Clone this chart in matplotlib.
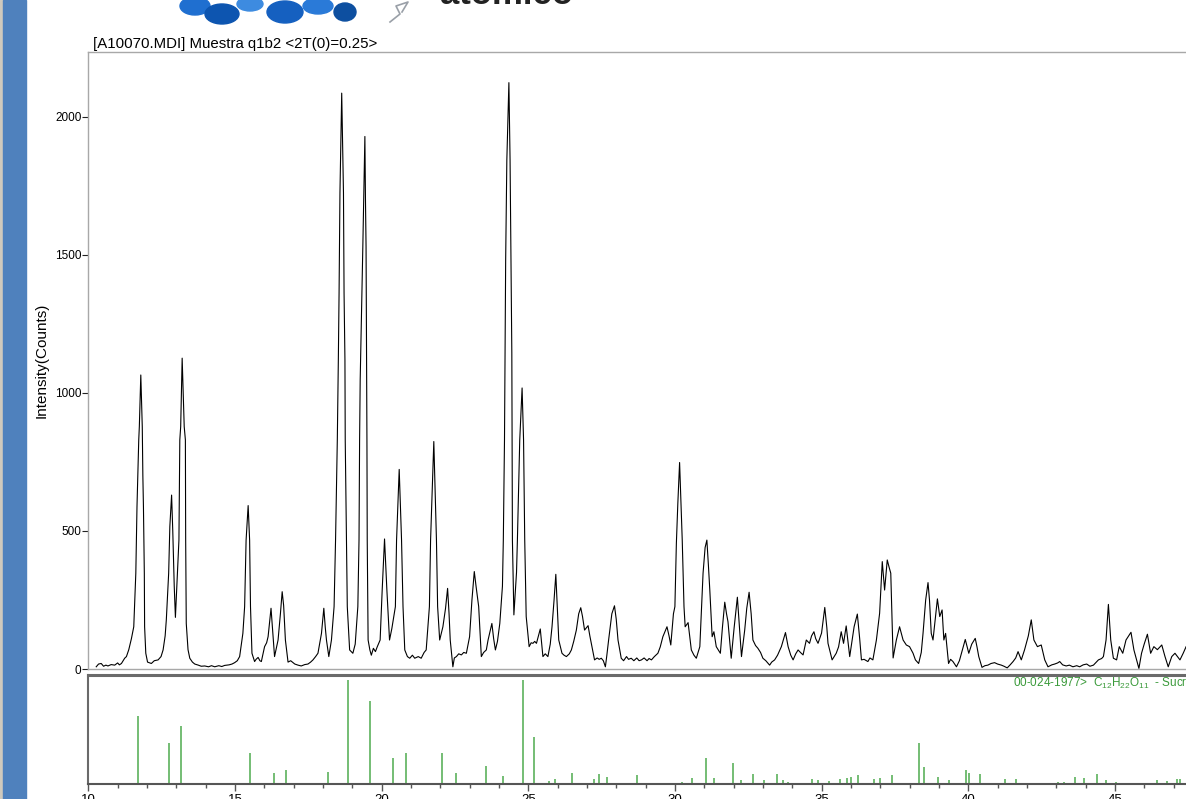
"""
Difractograma muestra q1b2 con patron de referencia (sacarosa)
"""

import matplotlib.pyplot as plt
from matplotlib.patches import Rectangle, Ellipse
from matplotlib.ticker import MultipleLocator

plt.rcParams['font.family'] = ['Liberation Sans', 'DejaVu Sans']
plt.rcParams['mathtext.fontset'] = 'custom'
plt.rcParams['mathtext.rm'] = 'Liberation Sans'

tt = [10.27, 10.35, 10.44, 10.52, 10.60, 10.67, 10.78, 10.90, 11.00, 11.06, 11.13, 11.24, 11.30, 11.38,
      11.47, 11.55, 11.62, 11.66, 11.72, 11.74, 11.79, 11.84, 11.86, 11.88, 11.91, 11.92, 11.96, 12.02,
      12.15, 12.25, 12.38, 12.48, 12.55, 12.62, 12.66, 12.74, 12.78, 12.84, 12.88, 12.93, 12.97, 13.04,
      13.09, 13.12, 13.15, 13.20, 13.27, 13.31, 13.32, 13.34, 13.40, 13.46, 13.55, 13.63, 13.75, 13.85,
      13.97, 14.10, 14.20, 14.31, 14.45, 14.55, 14.65, 14.80, 14.90, 14.99, 15.08, 15.16, 15.27, 15.33,
      15.38, 15.45, 15.50, 15.53, 15.58, 15.67, 15.72, 15.79, 15.85, 15.90, 16.01, 16.08, 16.13, 16.23,
      16.30, 16.35, 16.42, 16.47, 16.55, 16.61, 16.66, 16.72, 16.81, 16.90, 17.04, 17.15, 17.26, 17.38,
      17.49, 17.58, 17.66, 17.75, 17.83, 17.95, 18.03, 18.08, 18.12, 18.20, 18.29, 18.38, 18.43, 18.49,
      18.525, 18.55, 18.58, 18.64, 18.70, 18.72, 18.75, 18.76, 18.80, 18.83, 18.91, 19.02, 19.10, 19.19,
      19.23, 19.25, 19.27, 19.36, 19.43, 19.45, 19.47, 19.49, 19.50, 19.51, 19.54, 19.60, 19.65, 19.72,
      19.79, 19.85, 19.95, 20.02, 20.10, 20.18, 20.27, 20.35, 20.47, 20.51, 20.60, 20.68, 20.73, 20.79,
      20.88, 20.96, 21.05, 21.13, 21.25, 21.35, 21.45, 21.52, 21.63, 21.67, 21.78, 21.87, 21.91, 21.98,
      22.09, 22.18, 22.25, 22.30, 22.34, 22.38, 22.43, 22.48, 22.55, 22.63, 22.72, 22.80, 22.89, 23.00,
      23.08, 23.16, 23.22, 23.31, 23.40, 23.48, 23.57, 23.63, 23.76, 23.82, 23.88, 23.95, 24.03, 24.12,
      24.15, 24.19, 24.21, 24.23, 24.27, 24.34, 24.38, 24.41, 24.44, 24.45, 24.46, 24.51, 24.60, 24.63,
      24.71, 24.79, 24.84, 24.88, 24.93, 25.03, 25.10, 25.16, 25.22, 25.28, 25.41, 25.45, 25.50, 25.58,
      25.67, 25.75, 25.81, 25.88, 25.94, 26.00, 26.04, 26.15, 26.22, 26.30, 26.40, 26.47, 26.55, 26.64,
      26.72, 26.79, 26.85, 26.92, 27.04, 27.10, 27.17, 27.26, 27.35, 27.42, 27.49, 27.56, 27.63, 27.68,
      27.74, 27.85, 27.94, 28.00, 28.06, 28.17, 28.25, 28.35, 28.42, 28.51, 28.60, 28.70, 28.78, 28.86,
      28.95, 29.05, 29.12, 29.20, 29.30, 29.42, 29.50, 29.59, 29.73, 29.80, 29.86, 29.95, 30.00, 30.05,
      30.10, 30.16, 30.22, 30.25, 30.31, 30.35, 30.45, 30.56, 30.65, 30.73, 30.85, 30.96, 31.03, 31.09,
      31.14, 31.19, 31.27, 31.33, 31.41, 31.55, 31.62, 31.70, 31.76, 31.81, 31.92, 32.02, 32.13, 32.20,
      32.27, 32.38, 32.45, 32.53, 32.60, 32.66, 32.75, 32.83, 32.92, 33.00, 33.10, 33.23, 33.30, 33.40,
      33.50, 33.63, 33.77, 33.86, 33.95, 34.03, 34.12, 34.20, 34.28, 34.37, 34.48, 34.59, 34.66, 34.74,
      34.80, 34.88, 35.00, 35.11, 35.18, 35.22, 35.36, 35.50, 35.58, 35.67, 35.75, 35.84, 35.90, 35.96,
      36.11, 36.22, 36.30, 36.36, 36.45, 36.58, 36.65, 36.75, 36.87, 36.98, 37.07, 37.15, 37.24, 37.30,
      37.36, 37.44, 37.55, 37.66, 37.78, 37.89, 38.00, 38.12, 38.20, 38.31, 38.40, 38.46, 38.55, 38.63,
      38.68, 38.74, 38.80, 38.95, 39.03, 39.11, 39.17, 39.23, 39.33, 39.40, 39.48, 39.60, 39.70, 39.77,
      39.90, 40.02, 40.12, 40.24, 40.30, 40.36, 40.47, 40.57, 40.67, 40.78, 40.90, 41.00, 41.13, 41.22,
      41.33, 41.43, 41.53, 41.62, 41.70, 41.81, 41.92, 42.05, 42.15, 42.24, 42.36, 42.49, 42.61, 42.72,
      42.85, 42.95, 43.05, 43.12, 43.22, 43.34, 43.45, 43.57, 43.70, 43.80, 43.92, 44.04, 44.15, 44.27,
      44.44, 44.55, 44.61, 44.70, 44.78, 44.86, 44.95, 45.06, 45.15, 45.27, 45.38, 45.47, 45.55, 45.65,
      45.74, 45.82, 45.91, 46.00, 46.11, 46.22, 46.33, 46.45, 46.60, 46.71, 46.82, 46.94, 47.05, 47.22,
      47.33, 47.43]
counts = [8, 18, 20, 10, 14, 11, 16, 14, 22, 15, 20, 39, 45, 70,
          110, 153, 347, 588, 830, 878, 1065, 878, 700, 588, 347, 153, 57, 25,
          20, 30, 33, 45, 69, 120, 178, 347, 516, 630, 500, 300, 187, 350,
          467, 830, 878, 1126, 878, 830, 467, 165, 70, 39, 25, 18, 14, 10,
          11, 8, 12, 8, 12, 9, 13, 15, 18, 23, 30, 45, 129, 226,
          467, 592, 467, 226, 57, 27, 35, 42, 30, 27, 81, 95, 117, 220,
          120, 45, 80, 105, 200, 280, 230, 105, 25, 30, 18, 14, 11, 16,
          18, 25, 33, 45, 57, 129, 220, 150, 105, 45, 105, 226, 467, 830,
          1120, 1362, 1725, 2086, 1725, 1362, 1120, 830, 467, 226, 69, 57, 90, 226,
          467, 830, 1047, 1530, 1929, 1700, 1530, 1047, 830, 467, 105, 69, 50, 75,
          63, 80, 105, 286, 471, 286, 105, 147, 226, 467, 723, 467, 226, 69,
          45, 39, 50, 39, 45, 39, 60, 69, 226, 467, 824, 467, 226, 105,
          153, 220, 292, 200, 105, 60, 8, 40, 45, 55, 51, 60, 57, 117,
          250, 353, 300, 226, 45, 60, 69, 105, 165, 110, 69, 100, 165, 300,
          467, 830, 1145, 1482, 1844, 2124, 1844, 1482, 1145, 830, 467, 196, 350, 467,
          830, 1018, 830, 467, 190, 81, 95, 93, 100, 93, 145, 100, 45, 55,
          45, 90, 153, 250, 343, 200, 105, 57, 50, 45, 55, 69, 100, 141,
          200, 222, 190, 141, 157, 120, 81, 33, 40, 35, 39, 30, 8, 50,
          105, 200, 229, 180, 105, 39, 30, 45, 35, 39, 30, 40, 30, 33,
          40, 30, 38, 33, 45, 57, 80, 117, 153, 120, 87, 200, 226, 455,
          600, 748, 560, 467, 226, 153, 168, 69, 50, 39, 81, 347, 440, 467,
          380, 286, 117, 135, 81, 57, 150, 242, 200, 171, 39, 150, 260, 150,
          45, 141, 220, 278, 200, 105, 85, 75, 60, 39, 30, 14, 25, 33,
          50, 81, 132, 81, 50, 33, 55, 69, 60, 51, 105, 93, 120, 135,
          110, 93, 130, 223, 150, 93, 33, 57, 80, 135, 93, 156, 100, 45,
          153, 199, 110, 33, 35, 27, 40, 33, 105, 202, 389, 286, 395, 370,
          347, 40, 105, 153, 105, 87, 81, 57, 33, 20, 60, 129, 250, 313,
          250, 129, 105, 254, 190, 214, 105, 129, 20, 35, 27, 8, 30, 57,
          107, 57, 90, 111, 80, 45, 6, 12, 14, 20, 23, 18, 14, 10,
          4, 15, 27, 40, 63, 33, 69, 120, 178, 105, 81, 87, 33, 8,
          15, 18, 22, 27, 15, 11, 14, 8, 12, 8, 15, 18, 10, 14,
          33, 38, 45, 105, 234, 105, 39, 33, 81, 57, 105, 120, 133, 69,
          33, 2, 57, 90, 126, 57, 81, 70, 87, 45, 8, 45, 57, 33,
          57, 81]

# fiche de referencia 00-024-1977 (posicion, intensidad relativa)
ref_tt = [11.68, 12.76, 13.16, 15.51, 16.33, 16.73, 18.17, 18.86, 19.60, 20.40, 20.83, 22.07, 22.54,
          23.55, 24.13, 24.81, 25.20, 25.71, 25.91, 26.50, 27.25, 27.40, 27.69, 28.71, 30.24, 30.58,
          31.05, 31.33, 31.98, 32.24, 32.66, 33.04, 33.49, 33.69, 33.86, 34.68, 34.87, 35.26, 35.63,
          35.87, 35.99, 36.25, 36.79, 36.99, 37.40, 38.33, 38.50, 38.98, 39.34, 39.91, 40.03, 40.39,
          41.24, 41.62, 42.37, 43.07, 43.26, 43.63, 43.95, 44.38, 44.71, 45.04, 45.37, 46.05, 46.45,
          46.79, 47.11, 47.22]
ref_int = [66, 40, 56, 30, 11, 14, 12, 100, 80, 25, 30, 30, 11,
           18, 8, 100, 45, 3, 5, 11, 5, 10, 7, 9, 2, 6,
           25, 6, 20, 4, 10, 4, 10, 4, 2, 5, 4, 3, 5,
           6, 7, 9, 5, 6, 9, 40, 17, 7, 4, 14, 11, 10,
           5, 5, 1.5, 2, 2, 7, 6, 10, 4, 2, 1, 1, 4,
           3, 5, 5]

y_ticks = [0, 500, 1000, 1500, 2000]
titulo = '[A10070.MDI] Muestra q1b2 <2T(0)=0.25>'
fiche = r'00-024-1977>  $\mathregular{C_{12}H_{22}O_{11}}$  - Sucrose'

W, H = 1186, 799
x0 = 88.3          # pixel de 2T=10
pxdeg = 29.33      # pixeles por grado
xmax = 10 + (W - x0) / pxdeg

fig = plt.figure(figsize=(W / 100, H / 100), dpi=100)

# fondo: barra azul, logo cortado
bg = fig.add_axes([0, 0, 1, 1])
bg.set_xlim(0, W)
bg.set_ylim(H, 0)
bg.axis('off')
bg.add_patch(Rectangle((0, 0), 3, H, color='#cfc9bd'))
bg.add_patch(Rectangle((3, 0), 23, H, color='#4f81bd'))
for cx, cy, w, h, c in [(195, 6, 30, 18, '#1f6fd0'), (222, 14, 34, 20, '#0d55b0'),
                        (250, 4, 26, 14, '#3d8be0'), (285, 12, 36, 22, '#1560c0'),
                        (318, 6, 30, 16, '#2a7ad8'), (345, 12, 22, 18, '#0d4fa0')]:
    bg.add_patch(Ellipse((cx, cy), w, h, color=c))
bg.plot([390, 400, 396, 408, 402], [22, 14, 6, 2, 12], color='#9aa0a8', lw=1.2)
bg.text(440, 4, 'atomico', fontsize=25, fontweight='bold', va='baseline', color='#222222')

# grafico principal
ax = fig.add_axes([x0 / W, 1 - 669 / H, (W - x0) / W, (669 - 52) / H])
ax.plot(tt, counts, color='black', lw=0.8)
ax.set_xlim(10, xmax)
ax.set_ylim(0, 2235)
ax.set_xticks([])
ax.set_yticks(y_ticks)
ax.tick_params(axis='y', length=4, width=0.8, color='#222222', labelsize=8.5, pad=1)
for s in ['left', 'top', 'bottom']:
    ax.spines[s].set_color('#a8a8a8')
    ax.spines[s].set_linewidth(1)
ax.spines['right'].set_visible(False)

fig.text(42 / W, 1 - 360 / H, 'Intensity(Counts)', rotation=90, fontsize=11,
         ha='center', va='center')
fig.text(93 / W, 1 - 48 / H, titulo, fontsize=10.8, va='baseline')

# patron de referencia
ax2 = fig.add_axes([x0 / W, 1 - 784.3 / H, (W - x0) / W, (784.3 - 675) / H])
ax2.vlines(ref_tt, 0, ref_int, colors='#5cb25c', lw=1.2)
ax2.set_xlim(10, xmax)
ax2.set_ylim(0, 105)
ax2.set_yticks([])
ax2.xaxis.set_major_locator(MultipleLocator(5))
ax2.xaxis.set_minor_locator(MultipleLocator(1))
ax2.tick_params(axis='x', which='major', length=5, width=1, color='#555555',
                labelsize=9.5, pad=2)
ax2.tick_params(axis='x', which='minor', length=3, width=1, color='#555555')
ax2.spines['top'].set_linewidth(2.2)
ax2.spines['top'].set_color('#6a6a6a')
ax2.spines['left'].set_color('#6a6a6a')
ax2.spines['left'].set_linewidth(1.5)
ax2.spines['bottom'].set_color('#555555')
ax2.spines['bottom'].set_linewidth(1.5)
ax2.spines['right'].set_visible(False)
ax2.text(1013 / W, 1 - 683 / H, fiche, transform=fig.transFigure, color='#3a9a3a',
         fontsize=8.5, va='center', clip_on=False)

fig.savefig('out.png', dpi=100)
